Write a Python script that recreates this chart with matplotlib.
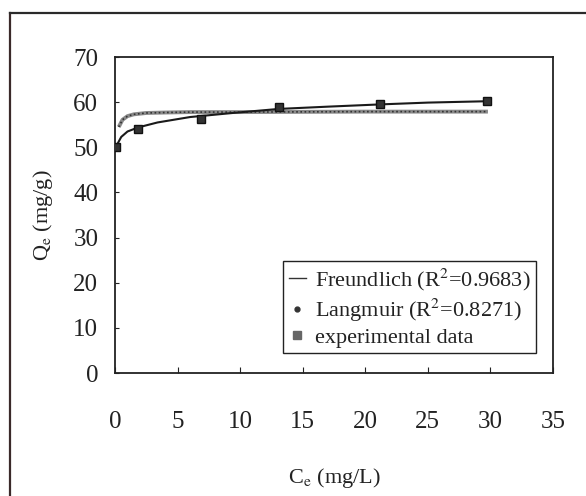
import matplotlib
matplotlib.use("Agg")
import matplotlib.pyplot as plt
from matplotlib.lines import Line2D

# ---- data ----
exp_x = [0.05, 1.85, 6.9, 13.1, 21.2, 29.7]
exp_y = [50.0, 54.0, 56.3, 58.9, 59.5, 60.2]

freund_x = [0.05, 0.5, 1.0, 1.85, 3.4, 6.0, 9.4, 13.1, 17.0, 21.2, 25.0, 29.7]
freund_y = [50.0, 52.3, 53.5, 54.4, 55.5, 56.7, 57.6, 58.5, 59.0, 59.5, 59.9, 60.2]

lang_x = [0.3, 0.6, 1.0, 1.5, 2.5, 4.0, 6.0, 10.0, 15.0, 20.0, 25.0, 29.8]
lang_y = [54.5, 56.1, 56.9, 57.3, 57.6, 57.7, 57.8, 57.8, 57.85, 57.9, 57.9, 57.9]

x_ticks = [0, 5, 10, 15, 20, 25, 30, 35]
y_ticks = [0, 10, 20, 30, 40, 50, 60, 70]
labels = ["Freundlich (R$^{2}$=0.9683)", "Langmuir (R$^{2}$=0.8271)", "experimental data"]

plt.rcParams['font.family'] = ['Liberation Serif', 'DejaVu Serif']
plt.rcParams['mathtext.fontset'] = 'stix'

fig = plt.figure(figsize=(5.86, 4.96), dpi=100)
ax = fig.add_axes([115/586, 123/496, 438/586, 316/496])

# outer frame (left and top edges visible)
fig.add_artist(Line2D([10/586, 10/586], [0, 1-13/496], transform=fig.transFigure,
                      color='#3a2a2a', lw=1.6))
fig.add_artist(Line2D([10/586, 1.0], [1-13/496, 1-13/496], transform=fig.transFigure,
                      color='#2a2a2a', lw=1.6))

# Langmuir: thick grey line with dark dots
ax.plot(lang_x, lang_y, color='#8a8a8a', lw=2.8, solid_capstyle='butt', zorder=2)
ax.plot(lang_x, lang_y, color='#333333', lw=1.2, ls=(0, (1, 1.5)), zorder=3)
# Freundlich: black line
ax.plot(freund_x, freund_y, color='#1a1a1a', lw=1.5, zorder=4)
# experimental points
ax.plot(exp_x, exp_y, ls='none', marker='s', ms=6, color='#333333',
        markeredgecolor='#111111', zorder=5)

ax.set_xlim(0, 35)
ax.set_ylim(0, 70)
ax.set_xticks(x_ticks)
ax.set_yticks(y_ticks)
ax.set_xticklabels([str(v) for v in x_ticks])
ax.set_yticklabels([str(v) for v in y_ticks])
ax.tick_params(axis='x', direction='in', length=4, width=0.8, pad=27,
               labelsize=18, colors='#222222')
ax.tick_params(axis='y', direction='in', length=3, width=0.8, pad=12,
               labelsize=18, colors='#222222')
for s in ax.spines.values():
    s.set_linewidth(1.3)
    s.set_color('#222222')

ax.set_xlabel("C$_{\\rm e}$ (mg/L)", fontsize=16, color='#222222')
ax.set_ylabel("Q$_{\\rm e}$ (mg/g)", fontsize=16, color='#222222')
ax.yaxis.set_label_coords(-(115-55)/438, 0.5)
ax.xaxis.set_label_coords(0.5, -(466-373)/316)

handles = [
    Line2D([0], [0], color='#333333', lw=1.0),
    Line2D([0], [0], ls='none', marker='o', ms=3.5, color='#333333'),
    Line2D([0], [0], ls='none', marker='s', ms=6, color='#666666'),
]
leg = ax.legend(handles, labels, loc='upper left',
                bbox_to_anchor=((283-115)/438, (373-261)/316),
                borderaxespad=0, fontsize=16, handlelength=0.8,
                handletextpad=0.4, labelspacing=0.16, borderpad=0.25,
                fancybox=False, framealpha=1, edgecolor='#222222')
leg.get_frame().set_linewidth(1.0)
for t in leg.get_texts():
    t.set_color('#222222')

fig.savefig("out.png", dpi=100)
